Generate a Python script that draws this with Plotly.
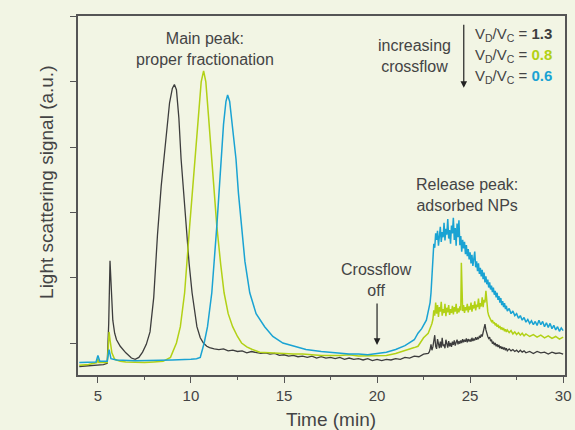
import plotly.graph_objects as go

# ---------------- data (time in min, signal in a.u.) ----------------
pts_13 = [
    (4.0, -0.36), (4.5, -0.35), (5.0, -0.34), (5.3, -0.33), (5.5, -0.31), (5.58, 0.3), (5.65, 1.26),
    (5.72, 0.8), (5.8, 0.35), (5.9, 0.15), (6.0, 0.05), (6.2, -0.05), (6.5, -0.15), (6.8, -0.23),
    (7.0, -0.25), (7.2, -0.22), (7.4, -0.14), (7.6, -0.02), (7.8, 0.17), (8.0, 0.7), (8.2, 1.65),
    (8.4, 2.4), (8.55, 2.82), (8.7, 3.3), (8.85, 3.68), (9.0, 3.9), (9.11, 3.96), (9.22, 3.88),
    (9.35, 3.45), (9.47, 2.82), (9.6, 2.3), (9.74, 1.79), (9.9, 1.22), (10.06, 0.77), (10.2, 0.45),
    (10.32, 0.25), (10.5, 0.08), (10.67, 0.0), (10.85, -0.05),
    (11.0, -0.07), (11.25, -0.09), (11.5, -0.1), (11.75, -0.09), (12.0, -0.12), (12.25, -0.11),
    (12.5, -0.13), (12.75, -0.12), (13.0, -0.15), (13.25, -0.13), (13.5, -0.14), (13.75, -0.16),
    (14.0, -0.15), (14.25, -0.17), (14.5, -0.16), (14.75, -0.19), (15.0, -0.18), (15.25, -0.2),
    (15.5, -0.19), (15.75, -0.21), (16.0, -0.2), (16.25, -0.22), (16.5, -0.2), (16.75, -0.23),
    (17.0, -0.21), (17.25, -0.23), (17.5, -0.22), (17.75, -0.24), (18.0, -0.22), (18.25, -0.25),
    (18.5, -0.23), (18.75, -0.25), (19.0, -0.24), (19.25, -0.26), (19.5, -0.24), (19.75, -0.27),
    (20.0, -0.25), (20.25, -0.27), (20.5, -0.25), (20.75, -0.26), (21.0, -0.24), (21.25, -0.25),
    (21.5, -0.22), (21.75, -0.23), (22.0, -0.2), (22.25, -0.21), (22.5, -0.17), (22.75, -0.16),
    (22.8, -0.14), (22.85, -0.10), (22.9, -0.02), (22.95, -0.11), (23.0, -0.06), (23.05, 0.04),
    (23.1, 0.12), (23.15, -0.05), (23.2, -0.09), (23.25, 0.06), (23.3, -0.04), (23.35, -0.08),
    (23.4, 0.02), (23.45, -0.07), (23.5, 0.08), (23.55, -0.05), (23.6, -0.02), (23.65, -0.08),
    (23.7, 0.05), (23.75, -0.04), (23.8, -0.07), (23.85, 0.03), (23.9, -0.05), (23.95, 0.0),
    (24.0, -0.06), (24.05, 0.02), (24.1, -0.03), (24.15, 0.04), (24.2, -0.04), (24.25, 0.01),
    (24.3, 0.05), (24.35, -0.02), (24.4, 0.03), (24.45, -0.01), (24.5, 0.04), (24.55, 0.0),
    (24.6, 0.06), (24.65, 0.01), (24.7, 0.05), (24.75, 0.02), (24.8, 0.07), (24.85, 0.01),
    (24.9, 0.06), (24.95, 0.03), (25.0, 0.05), (25.05, 0.02), (25.1, 0.08), (25.15, 0.03),
    (25.2, 0.06), (25.25, 0.04), (25.3, 0.09), (25.35, 0.05), (25.4, 0.08), (25.45, 0.06),
    (25.5, 0.11), (25.55, 0.08), (25.6, 0.13), (25.65, 0.10), (25.7, 0.18), (25.75, 0.22),
    (25.8, 0.29), (25.85, 0.20), (25.9, 0.14), (25.95, 0.10), (26.0, 0.07), (26.05, 0.09),
    (26.1, 0.03), (26.15, 0.05), (26.2, -0.01), (26.25, 0.02), (26.3, -0.03), (26.35, 0.0),
    (26.4, -0.05), (26.45, -0.02), (26.5, -0.06), (26.55, -0.03), (26.6, -0.08), (26.65, -0.05),
    (26.7, -0.09), (26.75, -0.06), (26.8, -0.10), (26.85, -0.07), (26.9, -0.11), (26.95, -0.08),
    (27.0, -0.12), (27.1, -0.09), (27.2, -0.12), (27.3, -0.1), (27.4, -0.13), (27.5, -0.11),
    (27.6, -0.14), (27.7, -0.11), (27.8, -0.14), (27.9, -0.12), (28.0, -0.15), (28.2, -0.13),
    (28.4, -0.16), (28.6, -0.13), (28.8, -0.15), (29.0, -0.14), (29.2, -0.17), (29.4, -0.14),
    (29.6, -0.16), (29.8, -0.15), (30.0, -0.17),
]

pts_08 = [
    (4.0, -0.34), (4.5, -0.33), (4.95, -0.3), (5.0, -0.24), (5.05, -0.3), (5.5, -0.3), (5.55, -0.1),
    (5.6, 0.17), (5.65, 0.05), (5.75, -0.15), (5.9, -0.25), (6.2, -0.28), (6.5, -0.29), (7.0, -0.3),
    (7.5, -0.3), (8.0, -0.29), (8.5, -0.28), (8.9, -0.22), (9.05, -0.12), (9.22, 0.0), (9.43, 0.25),
    (9.66, 0.77), (9.93, 1.79), (10.1, 2.4), (10.23, 2.82), (10.4, 3.5), (10.55, 4.0), (10.68, 4.17),
    (10.8, 4.0), (10.95, 3.45), (11.12, 2.82), (11.25, 2.3), (11.39, 1.79), (11.6, 1.2), (11.78, 0.77),
    (12.0, 0.45), (12.24, 0.25), (12.5, 0.1), (12.72, 0.0), (13.0, -0.06), (13.3, -0.1), (13.7, -0.14),
    (14.2, -0.15), (14.9, -0.16), (15.5, -0.17), (16.0, -0.17), (17.0, -0.19), (18.0, -0.19),
    (18.5, -0.18), (19.0, -0.2), (20.0, -0.2), (20.5, -0.19), (21.0, -0.16), (21.5, -0.12),
    (22.0, -0.07), (22.2, -0.05), (22.5, 0.08), (22.75, 0.15),
    (22.8, 0.18), (22.85, 0.22), (22.9, 0.26), (22.95, 0.30), (23.0, 0.36), (23.05, 0.50),
    (23.1, 0.42), (23.15, 0.62), (23.2, 0.45), (23.25, 0.58), (23.3, 0.40), (23.35, 0.55),
    (23.4, 0.48), (23.45, 0.63), (23.5, 0.42), (23.55, 0.52), (23.6, 0.46), (23.65, 0.60),
    (23.7, 0.41), (23.75, 0.54), (23.8, 0.47), (23.85, 0.58), (23.9, 0.43), (23.95, 0.52),
    (24.0, 0.46), (24.05, 0.57), (24.1, 0.44), (24.15, 0.55), (24.2, 0.48), (24.25, 0.60),
    (24.3, 0.45), (24.35, 0.53), (24.4, 0.47), (24.45, 0.56), (24.5, 0.50), (24.53, 1.23),
    (24.57, 0.52), (24.6, 0.49), (24.65, 0.58), (24.7, 0.46), (24.75, 0.55), (24.8, 0.50),
    (24.85, 0.60), (24.9, 0.47), (24.95, 0.56), (25.0, 0.51), (25.05, 0.62), (25.1, 0.48),
    (25.15, 0.58), (25.2, 0.53), (25.25, 0.64), (25.3, 0.50), (25.35, 0.59), (25.4, 0.55),
    (25.45, 0.68), (25.5, 0.52), (25.55, 0.61), (25.6, 0.56), (25.65, 0.70), (25.7, 0.55),
    (25.75, 0.66), (25.8, 0.62), (25.85, 0.80), (25.9, 0.58), (25.95, 0.48), (26.0, 0.42),
    (26.05, 0.38), (26.1, 0.36), (26.15, 0.33), (26.2, 0.35), (26.25, 0.30), (26.3, 0.32),
    (26.35, 0.27), (26.4, 0.30), (26.45, 0.25), (26.5, 0.28), (26.55, 0.23), (26.6, 0.26),
    (26.65, 0.21), (26.7, 0.24), (26.75, 0.20), (26.8, 0.23), (26.85, 0.18), (26.9, 0.21),
    (26.95, 0.17), (27.0, 0.20), (27.1, 0.16), (27.2, 0.19), (27.3, 0.14), (27.4, 0.17),
    (27.5, 0.13), (27.6, 0.16), (27.7, 0.12), (27.8, 0.15), (27.9, 0.11), (28.0, 0.14),
    (28.2, 0.1), (28.4, 0.13), (28.6, 0.09), (28.8, 0.12), (29.0, 0.08), (29.2, 0.11),
    (29.4, 0.07), (29.6, 0.1), (29.8, 0.06), (30.0, 0.09),
]

pts_06 = [
    (4.0, -0.3), (4.5, -0.29), (4.9, -0.29), (5.0, -0.19), (5.1, -0.28), (5.5, -0.28), (5.6, -0.1),
    (5.7, -0.24), (6.0, -0.26), (7.0, -0.27), (8.0, -0.27), (9.0, -0.26), (10.0, -0.25), (10.3, -0.24),
    (10.5, -0.22), (10.71, 0.0), (10.89, 0.25), (11.12, 0.77), (11.39, 1.79), (11.5, 2.3), (11.6, 2.82),
    (11.75, 3.35), (11.88, 3.7), (11.97, 3.8), (12.08, 3.7), (12.25, 3.3), (12.42, 2.82), (12.55, 2.3),
    (12.72, 1.79), (12.9, 1.25), (13.16, 0.77), (13.5, 0.45), (13.96, 0.25), (14.4, 0.1), (14.94, 0.0),
    (15.5, -0.05), (16.18, -0.1), (17.0, -0.13), (17.8, -0.15), (18.5, -0.17), (19.0, -0.17),
    (19.5, -0.18), (20.0, -0.16), (20.5, -0.14), (21.0, -0.1), (21.5, -0.04), (22.0, 0.05),
    (22.2, 0.15), (22.4, 0.22), (22.65, 0.35),
    (22.8, 0.55), (22.85, 0.62), (22.9, 0.77), (22.95, 1.05), (23.0, 1.38), (23.05, 1.52),
    (23.1, 1.46), (23.15, 1.68), (23.2, 1.58), (23.25, 1.72), (23.3, 1.49), (23.35, 1.66),
    (23.4, 1.78), (23.45, 1.55), (23.5, 1.70), (23.55, 1.62), (23.6, 1.84), (23.65, 1.57),
    (23.7, 1.75), (23.75, 1.66), (23.8, 1.90), (23.85, 1.60), (23.9, 1.73), (23.95, 1.52),
    (24.0, 1.80), (24.05, 1.68), (24.1, 1.92), (24.15, 1.58), (24.2, 1.76), (24.25, 1.49),
    (24.3, 1.83), (24.35, 1.62), (24.4, 1.88), (24.45, 1.50), (24.5, 1.64), (24.55, 1.40),
    (24.6, 1.58), (24.65, 1.45), (24.7, 1.55), (24.75, 1.36), (24.8, 1.50), (24.85, 1.33),
    (24.9, 1.44), (24.95, 1.28), (25.0, 1.39), (25.05, 1.22), (25.1, 1.35), (25.15, 1.18),
    (25.2, 1.30), (25.25, 1.40), (25.3, 1.16), (25.35, 1.25), (25.4, 1.10), (25.45, 1.22),
    (25.5, 1.06), (25.55, 1.15), (25.6, 1.02), (25.65, 1.12), (25.7, 0.98), (25.75, 1.08),
    (25.8, 0.93), (25.85, 1.02), (25.9, 0.90), (25.95, 0.97), (26.0, 0.85), (26.05, 0.93),
    (26.1, 0.82), (26.15, 0.88), (26.2, 0.78), (26.25, 0.85), (26.3, 0.74), (26.35, 0.80),
    (26.4, 0.70), (26.45, 0.77), (26.5, 0.66), (26.55, 0.72), (26.6, 0.62), (26.65, 0.69),
    (26.7, 0.58), (26.75, 0.64), (26.8, 0.55), (26.85, 0.61), (26.9, 0.52), (26.95, 0.57),
    (27.0, 0.49), (27.1, 0.53), (27.2, 0.45), (27.3, 0.49), (27.4, 0.42), (27.5, 0.45),
    (27.6, 0.38), (27.7, 0.42), (27.8, 0.35), (27.9, 0.39), (28.0, 0.32), (28.1, 0.36),
    (28.2, 0.3), (28.3, 0.34), (28.4, 0.28), (28.5, 0.33), (28.6, 0.27), (28.7, 0.35),
    (28.8, 0.28), (28.9, 0.33), (29.0, 0.25), (29.1, 0.31), (29.2, 0.24), (29.3, 0.3),
    (29.4, 0.22), (29.5, 0.27), (29.6, 0.2), (29.7, 0.25), (29.8, 0.18), (29.9, 0.23), (30.0, 0.19),
]

x_tick_vals = [5, 10, 15, 20, 25, 30]
y_tick_vals = [0, 1, 2, 3, 4, 5]

# ---------------- style ----------------
BG = "#f2f5e4"
TXT = "#444444"
C13 = "#3d3d3d"
C08 = "#b2d116"
C06 = "#1aa3d3"
AX = "#555555"
FONT = "Liberation Sans, Arial, sans-serif"

fig = go.Figure()
for pts, c, w, name in [(pts_13, C13, 1.3, "1.3"), (pts_08, C08, 1.5, "0.8"), (pts_06, C06, 1.5, "0.6")]:
    t, s = zip(*pts)
    fig.add_trace(go.Scatter(x=list(t), y=list(s), mode="lines", name=name,
                             line=dict(color=c, width=w), showlegend=False))

ann = []
def text(x, y, s, size=16, xanchor="center", color=TXT, xref="x", yref="y", angle=0):
    ann.append(dict(x=x, y=y, xref=xref, yref=yref, text=s, showarrow=False, xanchor=xanchor,
                    yanchor="middle", textangle=angle,
                    font=dict(size=size, color=color, family=FONT)))

text(10.74, 4.51, "Main peak:<br>proper fractionation")
text(22.03, 4.39, "increasing<br>crossflow")
text(25.15, 4.72, "V<sub>D</sub>/V<sub>C</sub> = <b><span style='color:%s'>1.3</span></b>" % C13, size=15, xanchor="left")
text(25.15, 4.41, "V<sub>D</sub>/V<sub>C</sub> = <b><span style='color:%s'>0.8</span></b>" % C08, size=15, xanchor="left")
text(25.15, 4.08, "V<sub>D</sub>/V<sub>C</sub> = <b><span style='color:%s'>0.6</span></b>" % C06, size=15, xanchor="left")
text(24.82, 2.27, "Release peak:<br>adsorbed NPs")
text(19.98, 0.97, "Crossflow<br>off")
# axis titles
text(0.519, -0.1226, "Time (min)", size=19, xref="paper", yref="paper")
text(-0.065, 0.536, "Light scattering signal (a.u.)", size=19, xref="paper", yref="paper", angle=-90)

# arrows
for (xh, yh, xt, yt) in [(24.66, 3.91, 24.66, 4.9), (20.0, -0.03, 20.0, 0.63)]:
    ann.append(dict(x=xh, y=yh, ax=xt, ay=yt, xref="x", yref="y", axref="x", ayref="y",
                    text="", showarrow=True, arrowhead=2, arrowsize=1.1, arrowwidth=1.2,
                    arrowcolor="#222222"))

fig.update_layout(
    width=575, height=430,
    margin=dict(l=78, r=10, t=16, b=55, autoexpand=False),
    paper_bgcolor=BG, plot_bgcolor=BG,
    font=dict(family=FONT, color=TXT),
    annotations=ann,
    xaxis=dict(range=[3.93, 30.1], tickvals=x_tick_vals, ticks="outside", ticklen=6, tickwidth=1.2,
               tickcolor=AX, showline=True, linecolor=AX, linewidth=1.5, mirror=True, automargin=False,
               showgrid=False, zeroline=False, tickfont=dict(size=15, color=TXT, family=FONT),
               minor=dict(dtick=2.5, tick0=0, ticks="outside", ticklen=3, tickcolor=AX)),
    yaxis=dict(range=[-0.49, 5.01], tickvals=y_tick_vals, ticks="outside", ticklen=6, tickwidth=1.2,
               tickcolor=AX, showline=True, linecolor=AX, linewidth=1.5, mirror=True, automargin=False,
               showgrid=False, zeroline=False, showticklabels=False),
)

fig.write_html("out.html")
